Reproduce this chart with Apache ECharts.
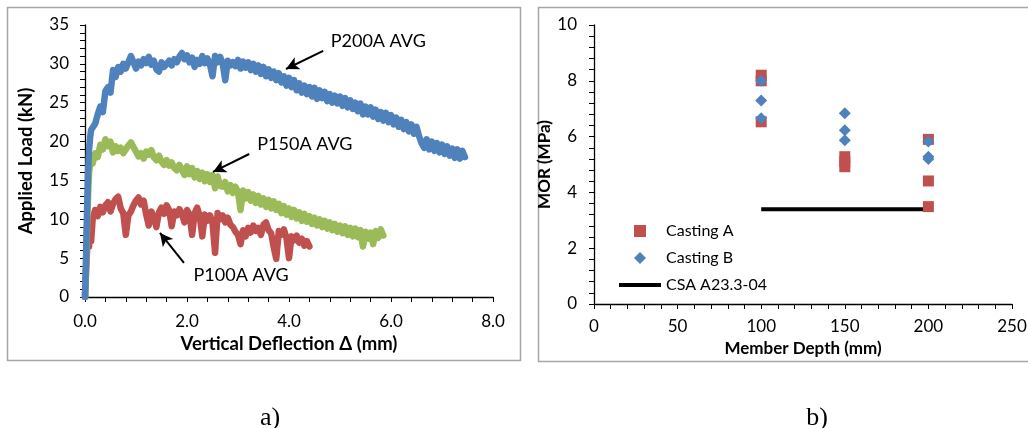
<!DOCTYPE html>
<html>
<head>
<meta charset="utf-8">
<script src="https://cdn.jsdelivr.net/npm/echarts@6/dist/echarts.min.js"></script>
<style>
html,body{margin:0;padding:0;background:#fff;}
#chart{width:1028px;height:428px;}
</style>
</head>
<body>
<div id="chart"></div>
<script>
// ---------- Panel a) load-deflection ----------
const deflection = [
  0, 0.02, 0.04, 0.06, 0.08, 0.10, 0.12,
  0.15, 0.20, 0.25, 0.30, 0.35, 0.40, 0.45, 0.50, 0.55, 0.60, 0.65, 0.70, 0.75, 0.80, 0.85, 0.90, 0.95,
  1.00, 1.05, 1.10, 1.15, 1.20, 1.25, 1.30, 1.35, 1.40, 1.45, 1.50, 1.55, 1.60, 1.65, 1.70, 1.75, 1.80, 1.85, 1.90, 1.95,
  2.00, 2.05, 2.10, 2.15, 2.20, 2.25, 2.30, 2.35, 2.40, 2.45, 2.50, 2.55, 2.60, 2.65, 2.70, 2.75, 2.80, 2.85, 2.90, 2.95,
  3.00, 3.05, 3.10, 3.15, 3.20, 3.25, 3.30, 3.35, 3.40, 3.45, 3.50, 3.55, 3.60, 3.65, 3.70, 3.75, 3.80, 3.85, 3.90, 3.95,
  4.00, 4.05, 4.10, 4.15, 4.20, 4.25, 4.30, 4.35, 4.40, 4.45, 4.50, 4.55, 4.60, 4.65, 4.70, 4.75, 4.80, 4.85, 4.90, 4.95,
  5.00, 5.05, 5.10, 5.15, 5.20, 5.25, 5.30, 5.35, 5.40, 5.45, 5.50, 5.55, 5.60, 5.65, 5.70, 5.75, 5.80, 5.85, 5.90, 5.95,
  6.00, 6.05, 6.10, 6.15, 6.20, 6.25, 6.30, 6.35, 6.40, 6.45, 6.50, 6.55, 6.60, 6.65, 6.70, 6.75, 6.80, 6.85, 6.90, 6.95,
  7.00, 7.05, 7.10, 7.15, 7.20, 7.25, 7.30, 7.35, 7.40, 7.45
];
const loadP200A = [
  0, 5, 11, 16, 19, 20.5, 21.5,
  21.8, 22.3, 23.5, 24.5, 23.8, 26.5, 27.0, 26.3, 29.2, 28.3, 29.6, 29.0, 30.0, 29.4, 30.2, 31.0, 30.2,
  29.4, 30.3, 29.8, 30.6, 30.1, 30.9, 29.9, 30.4, 29.3, 29.0, 30.2, 29.6, 30.0, 30.4, 29.8, 30.6, 30.2, 30.9, 31.4, 30.6,
  31.1, 30.2, 30.8, 29.6, 30.5, 30.0, 31.0, 30.1, 30.7, 29.9, 28.4, 31.0, 30.2, 30.9, 30.0, 27.9, 30.4, 29.8, 30.2, 29.7,
  30.5, 29.4, 30.3, 29.5, 30.2, 29.2, 30.0, 29.0, 29.8, 28.7, 29.6, 28.4, 29.3, 28.2, 29.0, 27.9, 28.8, 27.6, 28.4, 27.2,
  28.2, 27.0, 27.9, 26.6, 27.5, 26.3, 27.2, 26.1, 27.0, 25.8, 26.9, 25.5, 26.6, 25.6, 26.4, 25.2, 26.1, 25.0, 25.9, 24.9,
  25.8, 24.6, 25.6, 24.4, 25.3, 24.2, 25.0, 23.9, 24.9, 23.5, 24.5, 23.5, 24.4, 23.2, 24.1, 22.9, 23.8, 22.7, 23.7, 22.5,
  23.4, 22.2, 23.1, 21.9, 22.8, 21.6, 22.5, 21.3, 22.2, 21.0, 21.9, 20.7, 19.8, 19.2, 20.3, 19.0, 20.0, 18.8, 19.8, 18.6,
  19.6, 18.4, 19.4, 18.2, 19.1, 17.9, 19.0, 17.8, 18.8, 18.0
];
const loadP150A = [
  0, 4, 9, 13, 16, 17, 17.8,
  17.2, 18.5, 18.0, 19.6, 19.0, 20.3, 19.4, 20.0, 18.6, 19.4, 18.8, 19.2, 18.5, 19.0, 19.5, 19.9, 19.3,
  18.7, 18.1, 18.5, 17.8, 18.7, 18.3, 18.9, 18.0, 17.6, 18.2, 17.4, 17.0, 17.6, 16.9, 17.3, 16.6, 16.3, 17.0, 16.4, 15.7,
  16.8, 15.8, 16.6, 15.4, 16.2, 15.2, 16.0, 14.9, 15.8, 14.8, 15.7, 14.0, 15.5, 14.3, 14.2, 14.8, 13.6, 14.4, 13.4, 14.2,
  13.5, 11.2, 13.7, 12.7, 13.5, 12.4, 13.2, 12.1, 13.0, 11.9, 12.7, 11.6, 12.5, 11.4, 12.3, 11.2, 12.0, 10.8, 11.7, 10.6,
  11.4, 10.3, 11.2, 10.1, 10.9, 9.8, 10.7, 9.7, 10.4, 9.4, 10.2, 9.2, 10.0, 9.0, 9.8, 8.8, 9.6, 8.6, 9.4, 8.4,
  9.2, 8.2, 9.1, 8.0, 8.9, 7.8, 8.8, 7.7, 8.6, 6.5, 8.4, 7.5, 8.3, 6.8, 8.5, 7.6, 8.7, 7.9
];
const loadP100A = [
  0, 3, 6, 9.5, 6.5, 9.0, 7.2,
  10.0, 11.2, 10.4, 11.6, 10.9, 11.8, 12.2, 11.0, 12.0, 12.6, 12.9, 11.4, 10.8, 8.0, 10.5, 11.0, 11.8,
  12.4, 12.8, 11.9, 12.4, 10.6, 9.2, 11.0, 10.2, 9.0, 10.9, 11.5, 10.7, 11.8, 11.2, 9.1, 11.0, 10.5, 11.3, 10.7, 9.6,
  11.2, 10.6, 8.0, 10.8, 11.5, 10.4, 7.8, 10.6, 9.8, 10.5, 9.6, 5.7, 10.8, 10.0, 10.5, 9.6, 10.2, 9.3, 9.0, 8.4,
  8.0, 6.8, 8.6, 7.8, 8.9, 8.3, 9.2, 8.5, 8.9, 8.0, 9.3, 9.6, 8.6, 8.2, 6.4, 4.9, 8.5, 8.0, 8.7, 7.6,
  5.0, 7.8, 7.3, 7.9, 7.0, 7.5, 6.6, 7.2, 6.5
];
const curveNames = ['P100A AVG', 'P150A AVG', 'P200A AVG'];
const leftYTicks = [0, 5, 10, 15, 20, 25, 30, 35];
const leftXTicks = ['0.0', '2.0', '4.0', '6.0', '8.0'];
// annotation: label anchor and arrow (tail -> head), in data units
const annoText  = ['P100A AVG', 'P150A AVG', 'P200A AVG'];
const annoLabel = [[3.06, 2.83], [4.31, 19.69], [5.75, 32.94]];
const annoTail  = [[1.94, 4.38], [3.22, 18.40], [4.67, 31.66]];
const annoHead  = [[1.47, 8.24], [2.51, 16.09], [3.94, 29.34]];

// ---------- Panel b) MOR vs depth ----------
const depthA = [100, 100, 100, 150, 150, 150, 200, 200, 200];
const morA   = [8.2, 8.0, 6.53, 5.28, 5.1, 4.92, 5.9, 4.41, 3.49];
const depthB = [100, 100, 100, 150, 150, 150, 200, 200, 200];
const morB   = [8.0, 7.29, 6.66, 6.84, 6.23, 5.87, 5.82, 5.28, 5.2];
const csaDepth = [100, 200];
const csaMor   = [3.4, 3.4];
const rightLegend = ['Casting A', 'Casting B', 'CSA A23.3-04'];

const zip = (xs, ys) => ys.map((y, i) => [xs[i], y]);

const FONT = 'Lato, "Open Sans", sans-serif';
const colors = { 'P100A AVG': '#c0504d', 'P150A AVG': '#9bbb59', 'P200A AVG': '#4f81bd' };
const curveData = { 'P100A AVG': loadP100A, 'P150A AVG': loadP150A, 'P200A AVG': loadP200A };
const legendIcons = {
  'Casting A': 'path://M0,0L10,0L10,10L0,10Z',
  'Casting B': 'path://M5,0L10,5L5,10L0,5Z',
  'CSA A23.3-04': 'path://M0,0L42,0L42,4L0,4Z'
};

function axisCommon(extra) {
  return Object.assign({
    axisLine: { show: true, onZero: false, lineStyle: { color: '#000', width: 1.3 } },
    axisTick: { show: true, inside: false, length: 5, lineStyle: { color: '#000', width: 1 } },
    minorTick: { show: true, splitNumber: 5, length: 5, lineStyle: { color: '#000', width: 1 } },
    splitLine: { show: false },
    minorSplitLine: { show: false },
    axisLabel: { color: '#000', fontFamily: FONT, fontSize: 17 },
    nameTextStyle: { color: '#000', fontFamily: FONT, fontWeight: 'bold', fontSize: 18 }
  }, extra);
}

const curveSeries = curveNames.map((nm, k) => {
  const idx = annoText.indexOf(nm);
  return {
    name: nm, type: 'line', xAxisIndex: 0, yAxisIndex: 0,
    data: zip(deflection, curveData[nm]),
    showSymbol: false, symbol: 'none',
    lineStyle: { color: colors[nm], width: 6.5, join: 'round', cap: 'round' },
    itemStyle: { color: colors[nm] },
    z: 2 + k,
    silent: true,
    markLine: {
      silent: true, symbol: ['none', 'arrow'], symbolSize: [10, 13],
      label: { show: false },
      lineStyle: { color: '#000', width: 2, type: 'solid' },
      data: [[{ coord: annoTail[idx] }, { coord: annoHead[idx] }]]
    },
    markPoint: {
      silent: true, symbol: 'circle', symbolSize: 1,
      itemStyle: { color: 'rgba(0,0,0,0)' },
      label: { show: true, position: 'inside', color: '#000', fontFamily: FONT, fontSize: 18, formatter: annoText[idx] },
      data: [{ coord: annoLabel[idx], name: annoText[idx] }]
    }
  };
});

const option = {
  animation: false,
  backgroundColor: '#fff',
  textStyle: { fontFamily: FONT },
  grid: [
    { left: 85, right: 1028 - 493, top: 25, bottom: 428 - 297, outerBoundsMode: 'none', containLabel: false },
    { left: 594, right: 1028 - 1012, top: 25, bottom: 428 - 304, outerBoundsMode: 'none', containLabel: false }
  ],
  legend: {
    data: rightLegend.map(n => ({ name: n, icon: legendIcons[n] })),
    orient: 'vertical',
    left: 614, top: 218,
    itemWidth: 42, itemHeight: 12, itemGap: 11,
    symbolKeepAspect: true,
    textStyle: { color: '#000', fontFamily: FONT, fontSize: 16 },
    selectedMode: false,
    backgroundColor: 'rgba(0,0,0,0)'
  },
  xAxis: [
    axisCommon({
      gridIndex: 0, type: 'value', min: 0, max: 8, interval: 2,
      name: 'Vertical Deflection \u0394 (mm)', nameLocation: 'middle', nameGap: 38,
      nameTextStyle: { color: '#000', fontFamily: FONT, fontWeight: 'bold', fontSize: 18.5 },
      axisLabel: { color: '#000', fontFamily: FONT, fontSize: 17, margin: 16,
        formatter: v => leftXTicks[Math.round(v / 2)] }
    }),
    axisCommon({
      gridIndex: 1, type: 'value', min: 0, max: 250, interval: 50,
      name: 'Member Depth (mm)', nameLocation: 'middle', nameGap: 35,
      nameTextStyle: { color: '#000', fontFamily: FONT, fontWeight: 'bold', fontSize: 17 },
      axisLabel: { color: '#000', fontFamily: FONT, fontSize: 17, margin: 14 }
    })
  ],
  yAxis: [
    axisCommon({
      gridIndex: 0, type: 'value', min: 0, max: 35, interval: 5,
      name: 'Applied Load (kN)', nameLocation: 'middle', nameGap: 49,
      nameTextStyle: { color: '#000', fontFamily: FONT, fontWeight: 'bold', fontSize: 18.5 },
      axisLabel: { color: '#000', fontFamily: FONT, fontSize: 17, margin: 16,
        formatter: v => String(leftYTicks[Math.round(v / 5)]) }
    }),
    axisCommon({
      gridIndex: 1, type: 'value', min: 0, max: 10, interval: 2,
      name: 'MOR (MPa)', nameLocation: 'middle', nameGap: 33,
      nameTextStyle: { color: '#000', fontFamily: FONT, fontWeight: 'bold', fontSize: 17 },
      axisLabel: { color: '#000', fontFamily: FONT, fontSize: 17, margin: 17 }
    })
  ],
  series: curveSeries.concat([
    {
      name: 'CSA A23.3-04', type: 'line', xAxisIndex: 1, yAxisIndex: 1,
      data: zip(csaDepth, csaMor), symbol: 'none', showSymbol: false,
      lineStyle: { color: '#000', width: 4 }, itemStyle: { color: '#000' }, z: 2, silent: true
    },
    {
      name: 'Casting A', type: 'scatter', xAxisIndex: 1, yAxisIndex: 1,
      data: zip(depthA, morA), symbol: 'rect', symbolSize: 11,
      itemStyle: { color: '#c0504d', opacity: 1 }, z: 3, silent: true
    },
    {
      name: 'Casting B', type: 'scatter', xAxisIndex: 1, yAxisIndex: 1,
      data: zip(depthB, morB), symbol: 'diamond', symbolSize: 12,
      itemStyle: { color: '#4f81bd', opacity: 1 }, z: 4, silent: true
    }
  ]),
  graphic: [
    { type: 'rect', silent: true, z: -1, shape: { x: 7.5, y: 7.5, width: 513, height: 353 },
      style: { fill: 'none', stroke: '#a6a6a6', lineWidth: 1.5 } },
    { type: 'rect', silent: true, z: -1, shape: { x: 538.5, y: 7.5, width: 500, height: 354 },
      style: { fill: 'none', stroke: '#a6a6a6', lineWidth: 1.5 } },
    { type: 'text', silent: true, x: 270, y: 418,
      style: { text: 'a)', fill: '#000', font: '26px "Liberation Serif", "DejaVu Serif", serif', textAlign: 'center', textVerticalAlign: 'middle' } },
    { type: 'text', silent: true, x: 817, y: 418,
      style: { text: 'b)', fill: '#000', font: '26px "Liberation Serif", "DejaVu Serif", serif', textAlign: 'center', textVerticalAlign: 'middle' } }
  ]
};

const chart = echarts.init(document.getElementById('chart'), null, { renderer: 'canvas' });
chart.setOption(option);
</script>
</body>
</html>
